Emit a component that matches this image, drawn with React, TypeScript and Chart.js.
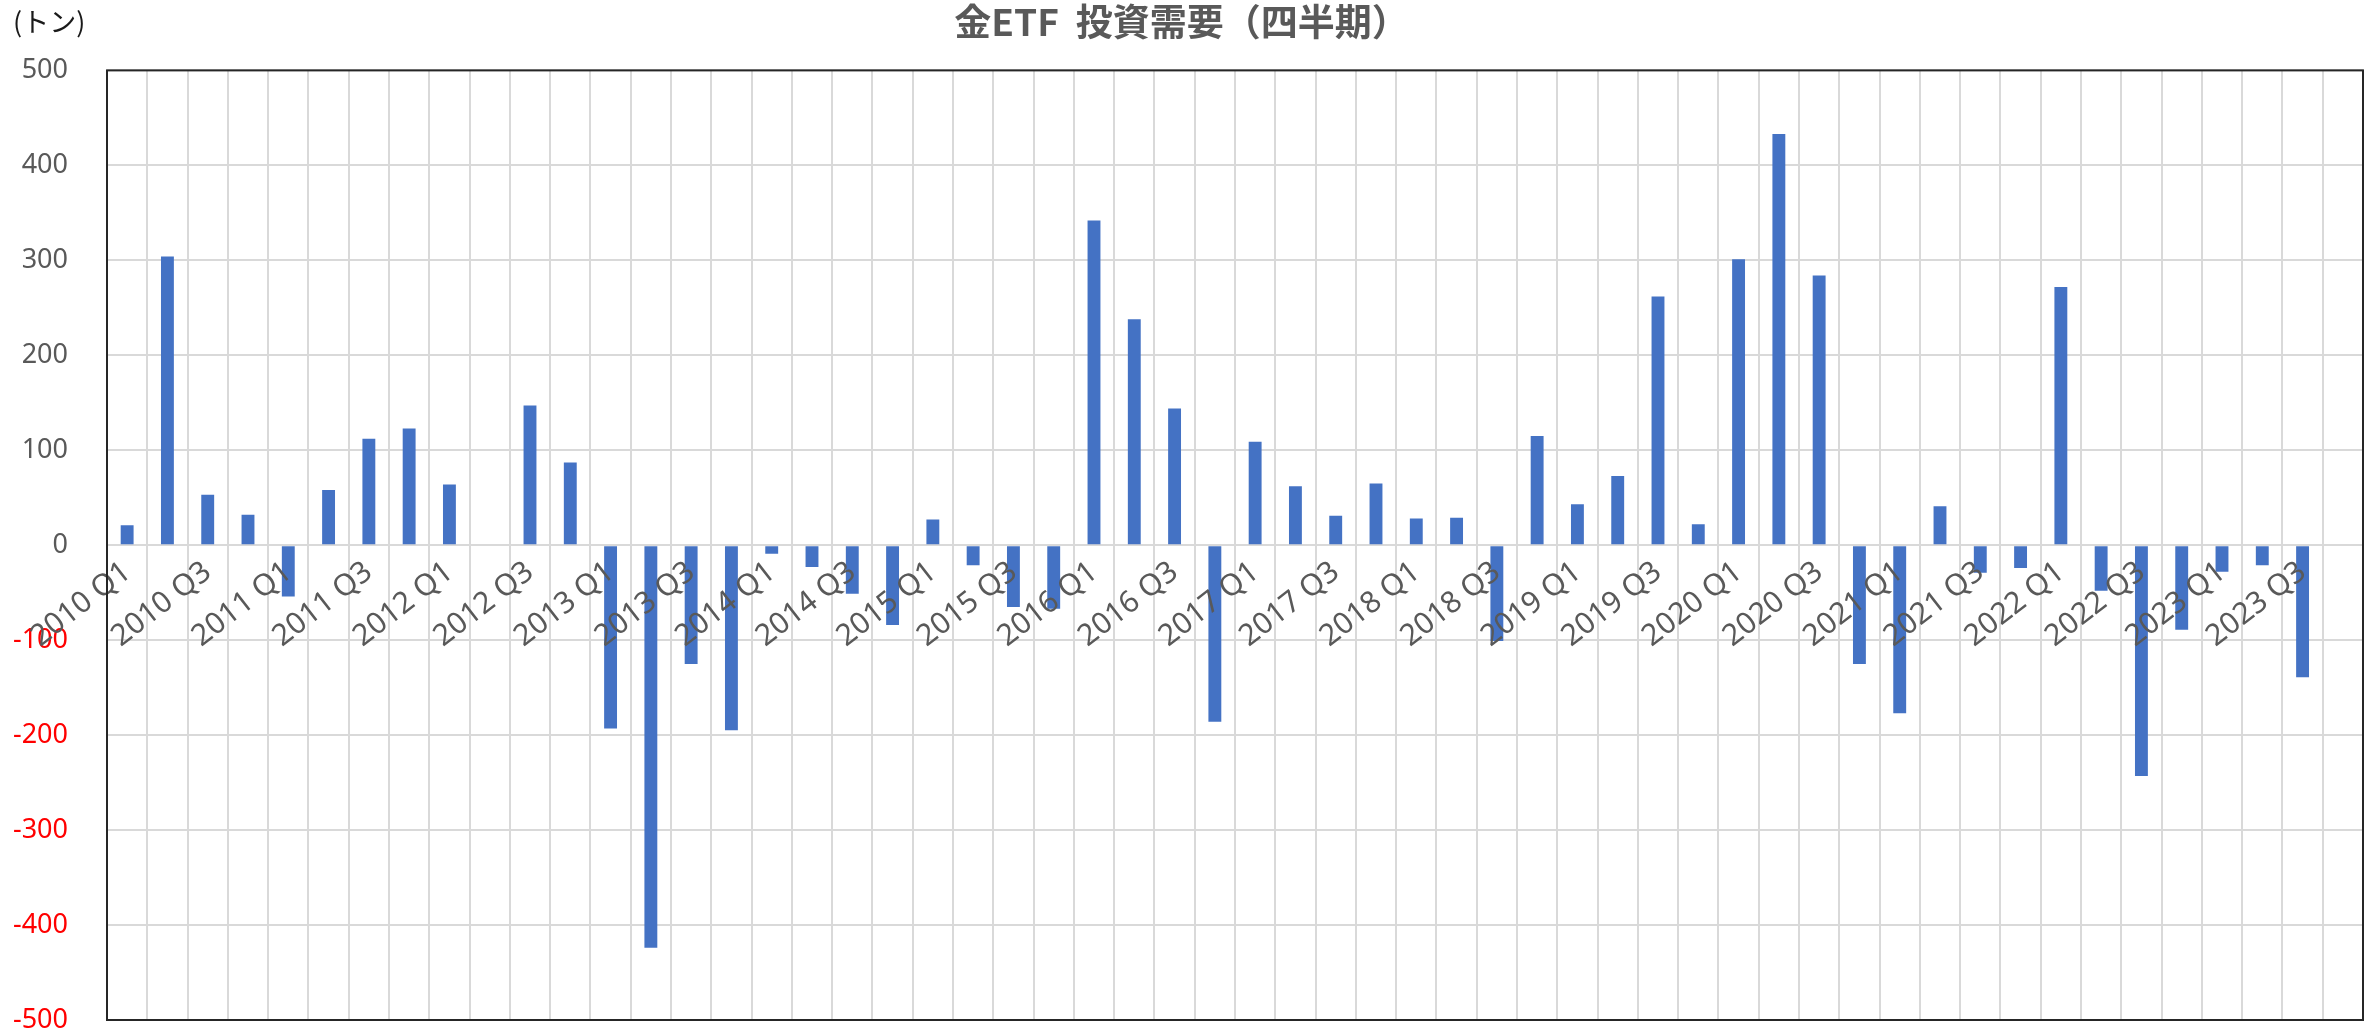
import React, { useEffect, useRef } from 'react';
import { Chart, registerables } from 'chart.js';

Chart.register(...registerables);

const TITLE = '金ETF  投資需要（四半期）';
const UNIT_LABEL = '(トン)';

const categories = [
  '2010 Q1', '2010 Q2', '2010 Q3', '2010 Q4',
  '2011 Q1', '2011 Q2', '2011 Q3', '2011 Q4',
  '2012 Q1', '2012 Q2', '2012 Q3', '2012 Q4',
  '2013 Q1', '2013 Q2', '2013 Q3', '2013 Q4',
  '2014 Q1', '2014 Q2', '2014 Q3', '2014 Q4',
  '2015 Q1', '2015 Q2', '2015 Q3', '2015 Q4',
  '2016 Q1', '2016 Q2', '2016 Q3', '2016 Q4',
  '2017 Q1', '2017 Q2', '2017 Q3', '2017 Q4',
  '2018 Q1', '2018 Q2', '2018 Q3', '2018 Q4',
  '2019 Q1', '2019 Q2', '2019 Q3', '2019 Q4',
  '2020 Q1', '2020 Q2', '2020 Q3', '2020 Q4',
  '2021 Q1', '2021 Q2', '2021 Q3', '2021 Q4',
  '2022 Q1', '2022 Q2', '2022 Q3', '2022 Q4',
  '2023 Q1', '2023 Q2', '2023 Q3', '2023 Q4',
];

const etfDemand: (number | null)[] = [
  21, 304, 53, 32,
  -54, 58, 112, 123,
  64, -1, 147, 87,
  -193, -424, -125, -195,
  -9, -23, -51, -84,
  27, -21, -65, -67,
  342, 238, 144, -186,
  109, 62, 31, 65,
  28, 29, -101, 115,
  43, 73, 262, 22,
  301, 433, 284, -125,
  -177, 41, -29, -24,
  272, -48, -243, -89,
  -28, -21, -139, null,
];

const yTicks = { min: -500, max: 500, step: 100 };

const LABEL_FONT = '"Noto Sans", "Noto Sans CJK JP", sans-serif';
const CJK_FONT = '"Noto Sans CJK JP", "Noto Sans", sans-serif';

export default function App() {
  const canvasRef = useRef<HTMLCanvasElement | null>(null);

  useEffect(() => {
    const canvas = canvasRef.current;
    if (!canvas) return;

    const framePlugin = {
      id: 'frameAndUnit',
      afterDraw(chart: any) {
        const { ctx, chartArea } = chart;
        ctx.save();
        ctx.strokeStyle = '#262626';
        ctx.lineWidth = 2;
        ctx.strokeRect(chartArea.left, chartArea.top, chartArea.right - chartArea.left, chartArea.bottom - chartArea.top);
        ctx.fillStyle = '#1a1a1a';
        ctx.font = `27px ${CJK_FONT}`;
        ctx.textAlign = 'left';
        ctx.textBaseline = 'middle';
        ctx.fillText(UNIT_LABEL, 13, 22);
        ctx.restore();
      },
    };

    const chart = new Chart(canvas, {
      type: 'bar',
      data: {
        labels: categories,
        datasets: [
          {
            label: '金ETF',
            data: etfDemand,
            backgroundColor: '#4472C4',
            borderWidth: 0,
            barPercentage: 0.32,
            categoryPercentage: 1,
          },
        ],
      },
      options: {
        responsive: false,
        animation: false,
        devicePixelRatio: 1,
        layout: { padding: { left: 0, right: 6, top: 0, bottom: 10 } },
        plugins: {
          legend: { display: false },
          tooltip: { enabled: false },
          title: {
            display: true,
            text: TITLE,
            color: '#595959',
            font: { size: 37, weight: 'bold', family: CJK_FONT },
            padding: { top: 0, bottom: 26 },
          },
        },
        scales: {
          x: {
            type: 'category',
            position: { y: 0 } as any,
            offset: true,
            grid: { offset: true, color: '#d9d9d9', lineWidth: 2, drawTicks: false },
            border: { display: false },
            ticks: {
              autoSkip: false,
              minRotation: 38,
              maxRotation: 38,
              color: '#595959',
              padding: 9,
              z: 1,
              font: { size: 30, family: LABEL_FONT },
              callback: (_v: any, i: number) => (i % 2 === 0 ? categories[i] : ''),
            },
            afterFit: (s: any) => {
              s.height = 0;
              s.paddingLeft = 0;
              s.paddingRight = 0;
              s.paddingTop = 0;
              s.paddingBottom = 0;
            },
          },
          y: {
            min: yTicks.min,
            max: yTicks.max,
            grid: { color: '#d9d9d9', lineWidth: 2, drawTicks: false },
            border: { display: false },
            ticks: {
              stepSize: yTicks.step,
              padding: 39,
              font: { size: 27, family: LABEL_FONT },
              color: (ctx: any) => (ctx.tick && ctx.tick.value < 0 ? '#FF0000' : '#595959'),
            },
            afterFit: (s: any) => {
              s.width = 107;
              s.paddingTop = 0;
              s.paddingBottom = 0;
            },
          },
        },
      },
      plugins: [framePlugin],
    });

    return () => {
      chart.destroy();
    };
  }, []);

  return (
    <div style={{ position: 'fixed', left: 0, top: 0, width: 2369, height: 1030, background: '#ffffff' }}>
      <canvas ref={canvasRef} width={2369} height={1030} style={{ display: 'block' }} />
    </div>
  );
}
